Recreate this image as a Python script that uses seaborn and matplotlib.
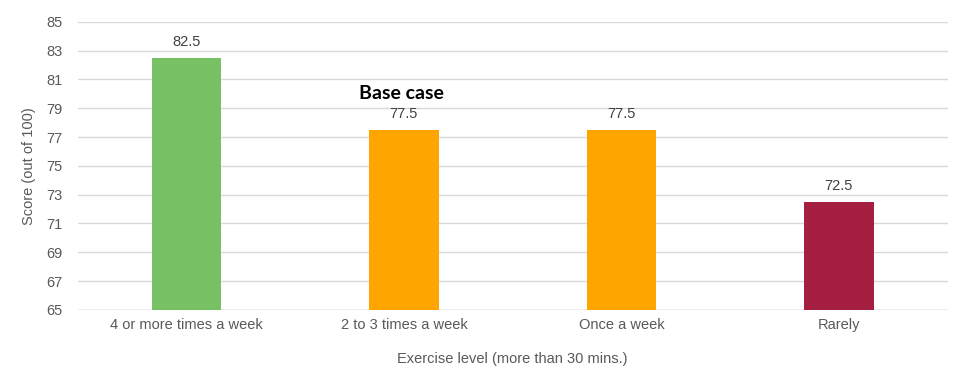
import matplotlib
matplotlib.use("Agg")
import matplotlib.pyplot as plt
import seaborn as sns
import pandas as pd

# data
categories = ["4 or more times a week", "2 to 3 times a week", "Once a week", "Rarely"]
scores = [82.5, 77.5, 77.5, 72.5]
bar_colors = ["#77C063", "#FFA500", "#FFA500", "#A51F40"]
y_ticks = [65, 67, 69, 71, 73, 75, 77, 79, 81, 83, 85]

sns.set_theme(style="white")
plt.rcParams["font.family"] = ["Liberation Sans", "DejaVu Sans"]

df = pd.DataFrame({"level": categories, "score": scores})

fig = plt.figure(figsize=(9.7, 3.84), dpi=100)
ax = fig.add_axes([0.080, 0.193, 0.897, 0.750])

sns.barplot(data=df, x="level", y="score", hue="level", palette=bar_colors,
            width=0.32, legend=False, ax=ax, zorder=3, saturation=1,
            linewidth=0)

ax.set_ylim(65, 85)
ax.set_yticks(y_ticks)
ax.yaxis.grid(True, color="#d9d9d9", linewidth=1, zorder=0)
ax.set_axisbelow(True)
for s in ["top", "right", "left", "bottom"]:
    ax.spines[s].set_visible(False)
ax.axhline(65, color="#bfbfbf", linewidth=1, zorder=1)

ax.tick_params(axis="y", length=0, labelsize=10.5, labelcolor="#595959", pad=11)
ax.tick_params(axis="x", length=0, labelsize=10.5, labelcolor="#595959", pad=6)
ax.set_xlabel("Exercise level (more than 30 mins.)", fontsize=10.5, color="#595959", labelpad=14)
ax.set_ylabel("Score (out of 100)", fontsize=10.5, color="#595959", labelpad=7)

for i, v in enumerate(scores):
    ax.text(i, v + 0.6, f"{v}", ha="center", va="bottom", fontsize=10.5, color="#404040")

ax.text(0.99, 80.0, "Base case", ha="center", va="center", fontsize=14,
        fontweight="bold", color="black", family=["Lato", "DejaVu Sans"])

fig.savefig("out.png", dpi=100)
